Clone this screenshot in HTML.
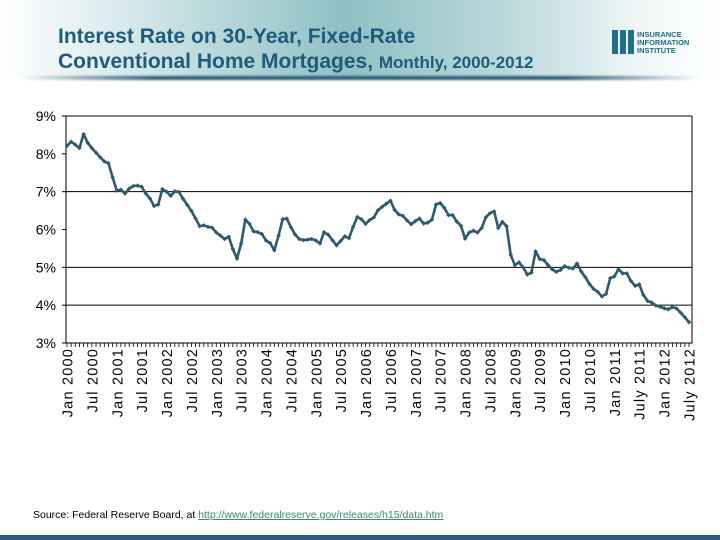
<!DOCTYPE html>
<html><head><meta charset="utf-8"><style>
body{margin:0;width:720px;height:540px;overflow:hidden;background:#fff;font-family:"Liberation Sans",sans-serif;position:relative}
#hdr{position:absolute;left:0;top:0;width:720px;height:78px;background:linear-gradient(90deg,#fff 0%,#d5e8ea 18%,#8fc0c4 48%,#b9d8da 70%,#eef6f6 88%,#fff 100%)}
#hdrline{position:absolute;left:20px;top:76px;width:680px;height:4px;background:linear-gradient(90deg,rgba(255,255,255,0),#2a5d78 20%,#2a5d78 80%,rgba(255,255,255,0));filter:blur(1px)}
#title{position:absolute;left:58px;top:24px;font-weight:bold;font-size:21px;line-height:25px;color:#1f5c7a}
#title small{font-size:17px}
#logo{position:absolute;left:612px;top:28px}
#src{position:absolute;left:33px;top:509px;font-size:10.5px;color:#000}
#src a{color:#3a8a6a;text-decoration:underline}
#foot{position:absolute;left:0;top:535px;width:720px;height:5px;background:#2a5d78}
</style></head><body>
<div id="hdr"></div>
<div id="hdrline"></div>
<div id="title">Interest Rate on 30-Year, Fixed-Rate<br>Conventional Home Mortgages, <small>Monthly, 2000-2012</small></div>
<svg id="logo" width="100" height="28">
<rect x="0" y="2" width="6" height="24" fill="#1f6e8c"/><rect x="8" y="2" width="6" height="24" fill="#1f6e8c"/><rect x="16" y="2" width="6" height="24" fill="#1f6e8c"/>
<text x="25" y="9" font-size="7.5" font-weight="bold" fill="#1f6e8c" font-family="Liberation Sans">INSURANCE</text>
<text x="25" y="17" font-size="7.5" font-weight="bold" fill="#1f6e8c" font-family="Liberation Sans">INFORMATION</text>
<text x="25" y="25" font-size="7.5" font-weight="bold" fill="#1f6e8c" font-family="Liberation Sans">INSTITUTE</text>
</svg>
<svg id="chart" width="720" height="540" style="position:absolute;left:0;top:0"></svg>
<div id="src">Source: Federal Reserve Board, at <a>http://www.federalreserve.gov/releases/h15/data.htm</a></div>
<div id="foot"></div>
<script>
const rates=[8.21,8.32,8.24,8.15,8.52,8.29,8.15,8.03,7.91,7.80,7.75,7.38,
7.03,7.05,6.95,7.08,7.15,7.16,7.13,6.95,6.82,6.62,6.66,7.07,
7.00,6.89,7.01,6.99,6.81,6.65,6.49,6.29,6.09,6.11,6.07,6.05,
5.92,5.84,5.75,5.81,5.48,5.23,5.63,6.26,6.15,5.95,5.93,5.88,
5.71,5.64,5.45,5.83,6.27,6.29,6.06,5.87,5.75,5.72,5.73,5.75,
5.71,5.63,5.93,5.86,5.72,5.58,5.70,5.82,5.77,6.07,6.33,6.27,
6.15,6.25,6.32,6.51,6.60,6.68,6.76,6.52,6.40,6.36,6.24,6.14,
6.22,6.29,6.16,6.18,6.26,6.66,6.70,6.57,6.38,6.38,6.21,6.10,
5.76,5.92,5.97,5.92,6.04,6.32,6.43,6.48,6.04,6.20,6.09,5.33,
5.06,5.13,5.00,4.81,4.86,5.42,5.22,5.19,5.06,4.95,4.88,4.93,
5.03,4.99,4.97,5.10,4.89,4.74,4.56,4.43,4.35,4.23,4.30,4.71,
4.76,4.95,4.84,4.84,4.64,4.51,4.55,4.27,4.11,4.07,3.99,3.96,
3.92,3.89,3.95,3.91,3.80,3.68,3.55];
const yTicks=[3,4,5,6,7,8,9];
const gridTicks=[4,5,7,9];
const xLabels=["Jan 2000","Jul 2000","Jan 2001","Jul 2001","Jan 2002","Jul 2002","Jan 2003","Jul 2003","Jan 2004","Jul 2004","Jan 2005","Jul 2005","Jan 2006","Jul 2006","Jan 2007","Jul 2007","Jan 2008","Jul 2008","Jan 2009","Jul 2009","Jan 2010","Jul 2010","Jan 2011","July 2011","Jan 2012","July 2012"];
const NS="http://www.w3.org/2000/svg",svg=document.getElementById('chart');
const L=66,R=692,T=116,B=343,X0=67,X1=689;
const y=v=>B-(v-3)/(9-3)*(B-T);
const x=i=>X0+i*(X1-X0)/(rates.length-1);
function mk(t,a){const e=document.createElementNS(NS,t);for(const k in a)e.setAttribute(k,a[k]);svg.appendChild(e);return e;}
gridTicks.forEach(v=>{const g=mk('line',{x1:L,x2:R,y1:y(v),y2:y(v),stroke:'#000','stroke-width':1});

});
const ax=mk('polyline',{points:`${L},${T} ${L},${B} ${R},${B} ${R},${T}`,fill:'none',stroke:'#000','stroke-width':1});


yTicks.forEach(v=>{const t=mk('text',{x:L-10,y:y(v)+5,'text-anchor':'end','font-size':14,'font-family':'Liberation Sans'});t.textContent=v+'%';


const tk=mk('line',{x1:L-4,x2:L,y1:y(v),y2:y(v),stroke:'#000'});

});
rates.forEach((r,i)=>{const tk=mk('line',{x1:x(i),x2:x(i),y1:B,y2:B+4,stroke:'#000','stroke-width':0.8});

});
xLabels.forEach((s,k)=>{const px=x(k*6)+5.5;const t=mk('text',{x:0,y:0,transform:`translate(${px},348) rotate(-90)`,'text-anchor':'end','font-size':14.5,'letter-spacing':1.2,'font-family':'Liberation Sans'});t.textContent=s;

});
const ln=mk('polyline',{points:rates.map((r,i)=>x(i)+','+y(r)).join(' '),fill:'none',stroke:'#2e5a6e','stroke-width':2.6,'stroke-linejoin':'round'});


rates.forEach((r,i)=>{const m=mk('rect',{x:x(i)-1.6,y:y(r)-1.6,width:3.2,height:3.2,fill:'#2e5a6e',transform:`rotate(45 ${x(i)} ${y(r)})`});

});
</script>
</body></html>
